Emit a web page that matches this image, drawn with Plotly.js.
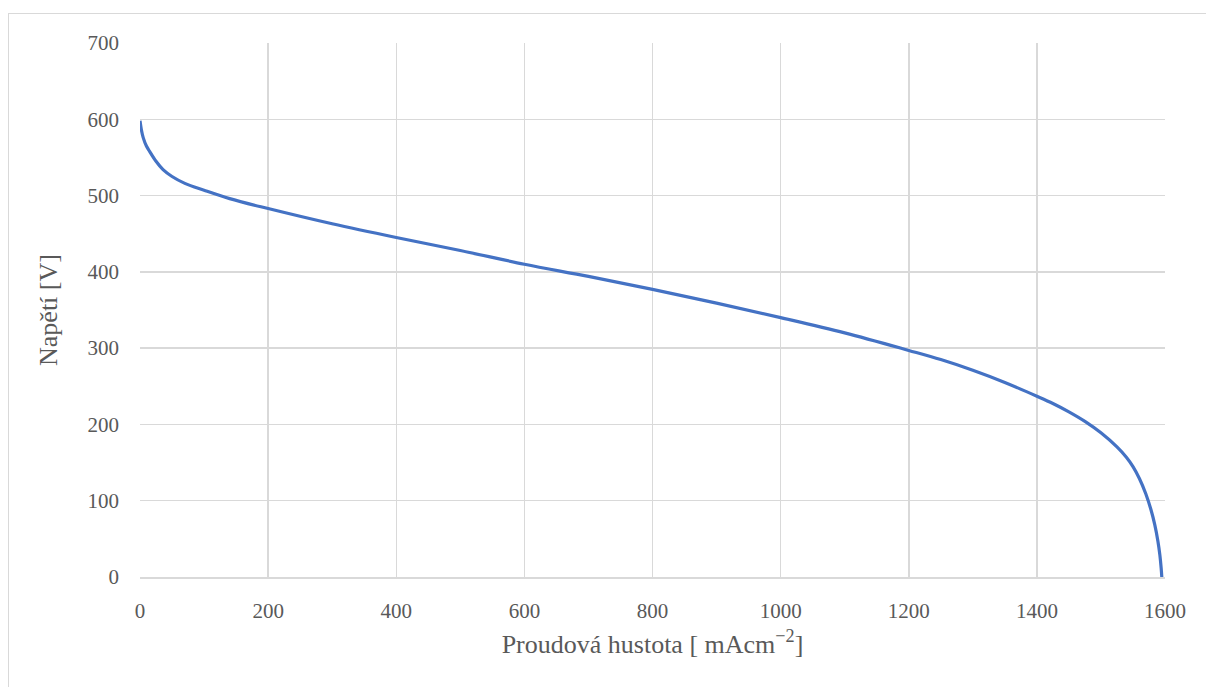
<!DOCTYPE html>
<html>
<head>
<meta charset="utf-8">
<script src="https://cdn.plot.ly/plotly-3.0.1.min.js"></script>
<style>
html,body{margin:0;padding:0;background:#fff;overflow:hidden;}
#frame{position:absolute;left:8px;top:13px;width:1400px;height:900px;border:1px solid #d9d9d9;box-sizing:border-box;}
#chart{position:absolute;left:0;top:0;width:1206px;height:687px;}
</style>
</head>
<body>
<div id="frame"></div>
<div id="chart"></div>
<script>
// Current density [mA/cm^2]
const currentDensity = [0, 2, 5, 10, 15, 25, 36, 50, 70, 100, 140, 200, 300, 400, 500, 600, 700, 800, 900, 1000, 1100, 1200, 1250, 1300, 1350, 1400, 1425, 1450, 1475, 1500, 1525, 1540, 1550, 1560, 1570, 1578, 1584, 1589, 1592, 1594, 1595];
// Voltage [V]
const voltage = [598, 587, 576, 565, 558, 545, 534, 525, 516, 507, 496, 483, 463, 445, 428, 410, 394, 377, 359, 340, 320, 297, 285, 271, 255, 237, 227.5, 216.5, 204, 189, 170.5, 156.7, 144.7, 129.2, 109.2, 88.4, 68.6, 46.6, 28.6, 11.6, 0];

const xTicks = [0, 200, 400, 600, 800, 1000, 1200, 1400, 1600];
const yTicks = [0, 100, 200, 300, 400, 500, 600, 700];

const trace = {
  x: currentDensity,
  y: voltage,
  type: 'scatter',
  mode: 'lines',
  line: {color: '#4472C4', width: 3.2, shape: 'spline', smoothing: 1},
  hoverinfo: 'x+y'
};

const serif = 'Liberation Serif, DejaVu Serif, serif';
const grey = '#595959';

const layout = {
  width: 1206,
  height: 687,
  margin: {l: 140, r: 41, t: 43, b: 110},
  paper_bgcolor: 'rgba(0,0,0,0)',
  plot_bgcolor: 'rgba(0,0,0,0)',
  showlegend: false,
  font: {family: serif, size: 21, color: grey},
  xaxis: {
    range: [0, 1600],
    tickvals: xTicks,
    ticktext: xTicks.map(String),
    showgrid: true,
    gridcolor: '#d9d9d9',
    gridwidth: 1.5,
    zeroline: false,
    showline: true,
    linecolor: '#d9d9d9',
    linewidth: 1.5,
    ticks: '',
    ticklabelstandoff: 14,
    tickfont: {family: serif, size: 21, color: grey},
    title: {text: 'Proudová hustota [ mAcm<sup>−2</sup>]', font: {family: serif, size: 26, color: grey}, standoff: 13}
  },
  yaxis: {
    range: [0, 700],
    tickvals: yTicks,
    ticktext: yTicks.map(String),
    showgrid: true,
    gridcolor: '#d9d9d9',
    gridwidth: 1.5,
    zeroline: false,
    showline: false,
    ticks: '',
    ticklabelstandoff: 20,
    tickfont: {family: serif, size: 21, color: grey},
    title: {text: 'Napětí [V]', font: {family: serif, size: 26, color: grey}, standoff: 22}
  }
};

Plotly.newPlot('chart', [trace], layout, {displayModeBar: false, staticPlot: true});
</script>
</body>
</html>
